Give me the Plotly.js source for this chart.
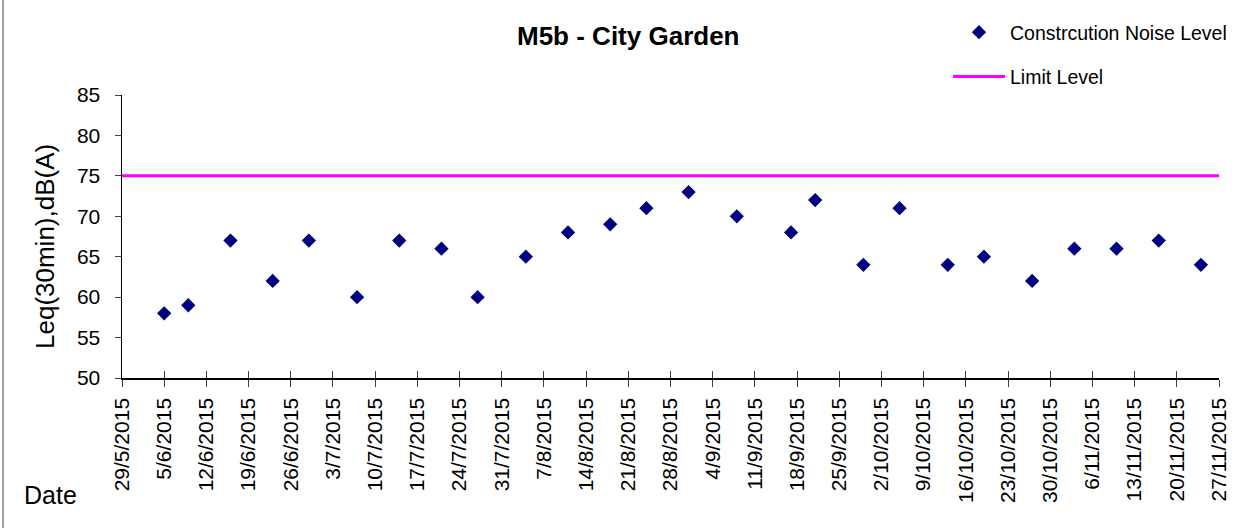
<!DOCTYPE html>
<html>
<head>
<meta charset="utf-8">
<script src="https://cdn.plot.ly/plotly-3.0.1.min.js"></script>
<style>
  html, body { margin: 0; padding: 0; background: #fff; }
  #chart { width: 1254px; height: 528px; position: relative; }
  #frame { position: absolute; left: 2px; top: 0; width: 2px; height: 528px; background: #a0a0a0; }
</style>
</head>
<body>
<div id="chart"></div>
<div id="frame"></div>
<script>
// ---- data ----
const measureDates = [
  '2015-06-05','2015-06-09','2015-06-16','2015-06-23','2015-06-29',
  '2015-07-07','2015-07-14','2015-07-21','2015-07-27',
  '2015-08-04','2015-08-11','2015-08-18','2015-08-24','2015-08-31',
  '2015-09-08','2015-09-17','2015-09-21','2015-09-29',
  '2015-10-05','2015-10-13','2015-10-19','2015-10-27',
  '2015-11-03','2015-11-10','2015-11-17','2015-11-24'
];
const noiseLevels = [
  58, 59, 67, 62, 67,
  60, 67, 66, 60,
  65, 68, 69, 71, 73,
  70, 68, 72, 64,
  71, 64, 65, 62,
  66, 66, 67, 64
];
const limitDates = ['2015-05-29', '2015-11-27'];
const limitLevels = [75, 75];
const xRange = ['2015-05-29', '2015-11-27'];
const yRange = [50, 85];

const chartTitle = 'M5b - City Garden';
const yTitle = 'Leq(30min),dB(A)';
const xTitle = 'Date';
const seriesNames = ['Constrcution Noise Level', 'Limit Level'];

const FONT = 'Liberation Sans, Arial, sans-serif';

const traces = [
  {
    x: measureDates, y: noiseLevels, name: seriesNames[0],
    type: 'scatter', mode: 'markers', legendgroup: 'a',
    marker: { symbol: 'diamond', size: 11, color: '#000080' },
    cliponaxis: false
  },
  {
    x: limitDates, y: limitLevels, name: seriesNames[1],
    type: 'scatter', mode: 'lines', legendgroup: 'b',
    line: { color: '#ff00ff', width: 3 }
  },
  {
    x: limitDates, y: limitLevels, xaxis: 'x2', yaxis: 'y',
    type: 'scatter', mode: 'lines', showlegend: false, hoverinfo: 'skip',
    line: { width: 0 }, opacity: 0
  }
];

const W = 1254, H = 528;
const L = 122, R = 35, T = 95, B = 150;
const pw = W - L - R, ph = H - T - B;
function px2x(p) { return (p - L) / pw; }
function px2y(p) { return (H - B - p) / ph; }

const layout = {
  width: W, height: H,
  margin: { l: L, r: R, t: T, b: B, pad: 0 },
  paper_bgcolor: '#ffffff', plot_bgcolor: '#ffffff',
  font: { family: FONT, color: '#000000' },
  showlegend: true,
  legend: {
    x: px2x(948), xanchor: 'left', y: px2y(13), yanchor: 'top',
    font: { family: FONT, size: 19.5, color: '#000' },
    tracegroupgap: 16, traceorder: 'grouped', itemwidth: 52,
    bgcolor: 'rgba(0,0,0,0)', borderwidth: 0
  },
  xaxis: {
    type: 'date', range: xRange,
    tick0: xRange[0], dtick: 7 * 86400000,
    tickformat: '%-d/%-m/%Y', tickangle: -90,
    tickfont: { family: FONT, size: 21, color: '#000' },
    ticks: 'outside', ticklen: 7, tickcolor: '#404040', tickwidth: 1,
    ticklabelstandoff: 3,
    showline: true, linecolor: '#000', linewidth: 1.5,
    showgrid: false, zeroline: false, fixedrange: true
  },
  xaxis2: {
    type: 'date', range: xRange, overlaying: 'x', anchor: 'y',
    tick0: xRange[0], dtick: 7 * 86400000,
    ticks: 'inside', ticklen: 7, tickcolor: '#404040', tickwidth: 1,
    showticklabels: false, showline: false, showgrid: false, zeroline: false
  },
  yaxis: {
    range: yRange, dtick: 5, tick0: 50,
    tickfont: { family: FONT, size: 21, color: '#000' },
    ticks: 'outside', ticklen: 6, tickcolor: '#404040', tickwidth: 1,
    ticklabelstandoff: 10,
    showline: true, linecolor: '#000', linewidth: 1.5,
    showgrid: false, zeroline: false, fixedrange: true
  },
  annotations: [
    { text: '<b>' + chartTitle + '</b>', xref: 'paper', yref: 'paper',
      x: px2x(628), y: px2y(36), xanchor: 'center', yanchor: 'middle',
      showarrow: false, font: { family: FONT, size: 26, color: '#000' } },
    { text: yTitle, xref: 'paper', yref: 'paper', textangle: -90,
      x: px2x(45), y: px2y(247), xanchor: 'center', yanchor: 'middle',
      showarrow: false, font: { family: FONT, size: 26, color: '#000' } },
    { text: xTitle, xref: 'paper', yref: 'paper',
      x: px2x(50), y: px2y(495), xanchor: 'center', yanchor: 'middle',
      showarrow: false, font: { family: FONT, size: 25, color: '#000' } }
  ]
};

Plotly.newPlot('chart', traces, layout, { staticPlot: true, displayModeBar: false });
</script>
</body>
</html>
